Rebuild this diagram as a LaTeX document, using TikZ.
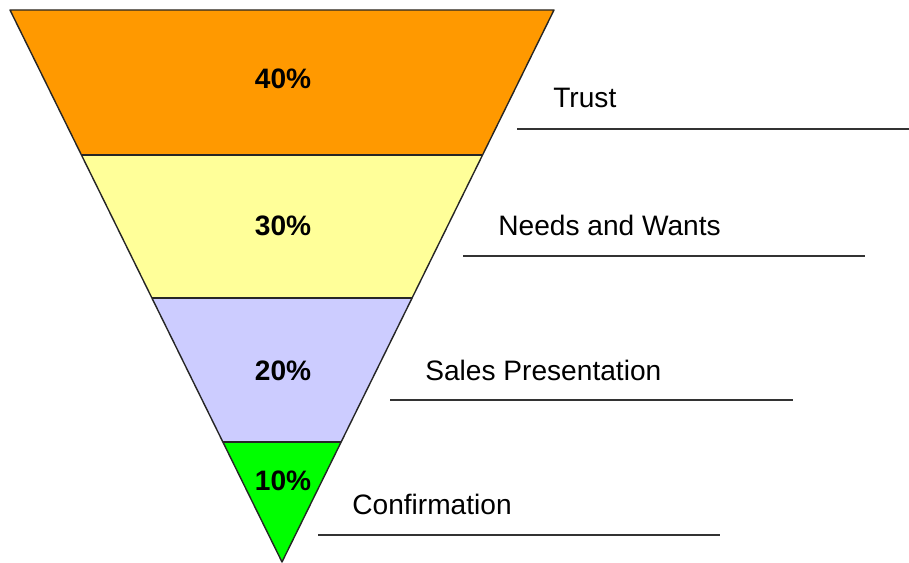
\documentclass[tikz,border=0pt]{standalone}
\usepackage{fontspec}
\setmainfont{Liberation Sans}
\usetikzlibrary{calc}
\definecolor{fn_orange}{RGB}{255, 153, 0}
\definecolor{fn_yellow}{RGB}{255, 255, 153}
\definecolor{fn_blue}{RGB}{204, 204, 255}
\definecolor{fn_green}{RGB}{0, 255, 0}
\tikzstyle{band}=[draw=black!85,line width=0.8pt,line join=round]
\tikzstyle{pct}=[anchor=base,inner sep=0pt,font=\fontsize{16}{19}\selectfont\bfseries]
\tikzstyle{lbl}=[anchor=base west,inner sep=0pt,font=\fontsize{16}{19}\selectfont]
\tikzstyle{rule}=[draw=black!80,line width=0.8pt]
\tikzstyle{none}=[inner sep=0pt]

\begin{document}
\begin{tikzpicture}[x=0.02cm,y=-0.02cm]
            \useasboundingbox (0, 0) rectangle (909, 563);
            \coordinate (0) at (10, 10);
            \coordinate (1) at (554, 10);
            \coordinate (2) at (81.4, 155);
            \coordinate (3) at (482.6, 155);
            \coordinate (4) at (151.9, 298);
            \coordinate (5) at (412.1, 298);
            \coordinate (6) at (222.9, 442);
            \coordinate (7) at (341.1, 442);
            \coordinate (8) at (282, 562);
            \fill [fn_orange] (0) -- (1) -- (3) -- (2) -- cycle;
            \fill [fn_yellow] (2) -- (3) -- (5) -- (4) -- cycle;
            \fill [fn_blue] (4) -- (5) -- (7) -- (6) -- cycle;
            \fill [fn_green] (6) -- (7) -- (8) -- cycle;
            \draw [style=band] (0) -- (1) -- (8) -- cycle;
            \draw [style=band] (2) to (3);
            \draw [style=band] (4) to (5);
            \draw [style=band] (6) to (7);
            \node [style=pct] (10) at (283, 89) {40\%};
            \node [style=pct] (11) at (283, 236) {30\%};
            \node [style=pct] (12) at (283, 381) {20\%};
            \node [style=pct] (13) at (283, 490) {10\%};
            \node [style=lbl] (20) at (553, 108) {Trust};
            \node [style=lbl] (21) at (498, 236) {Needs and Wants};
            \node [style=lbl] (22) at (425, 381) {Sales Presentation};
            \node [style=lbl] (23) at (352, 514) {Confirmation};
            \coordinate (30) at (517, 129);
            \coordinate (31) at (909, 129);
            \coordinate (32) at (463, 256);
            \coordinate (33) at (865, 256);
            \coordinate (34) at (390, 400);
            \coordinate (35) at (793, 400);
            \coordinate (36) at (318, 535);
            \coordinate (37) at (720, 535);
            \draw [style=rule] (30) to (31);
            \draw [style=rule] (32) to (33);
            \draw [style=rule] (34) to (35);
            \draw [style=rule] (36) to (37);
    \end{tikzpicture}
\end{document}
